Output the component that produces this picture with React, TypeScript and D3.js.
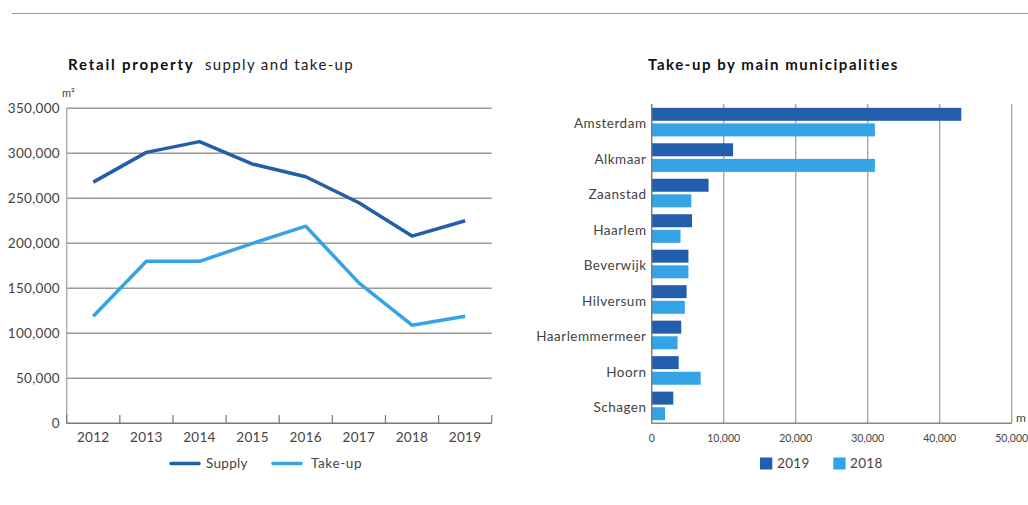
import React from "react";
import * as d3 from "d3";

const years = ["2012", "2013", "2014", "2015", "2016", "2017", "2018", "2019"];
const supply = [268000, 301000, 313000, 288000, 274000, 245000, 208000, 225000];
const takeUp = [119000, 180000, 180000, 200000, 219000, 156000, 109000, 119000];
const yTicksLeft = [0, 50000, 100000, 150000, 200000, 250000, 300000, 350000];

const municipalities = ["Amsterdam", "Alkmaar", "Zaanstad", "Haarlem", "Beverwijk", "Hilversum", "Haarlemmermeer", "Hoorn", "Schagen"];
const takeUp2019 = [43000, 11300, 7900, 5600, 5100, 4850, 4100, 3750, 3000];
const takeUp2018 = [31000, 31000, 5500, 4000, 5100, 4600, 3600, 6800, 1850];
const xTicksRight = [0, 10000, 20000, 30000, 40000, 50000];

const DARK = "#235ead";
const LIGHT = "#34a4e6";
const TEXT = "#444";
const FONT = "Lato, 'Open Sans', sans-serif";

export default function App() {
  // Left chart
  const lx = d3.scaleBand<string>().domain(years).range([66.7, 491.7]);
  const ly = d3.scaleLinear().domain([0, 350000]).range([423.3, 108.3]);
  const line = d3
    .line<number>()
    .x((_, i) => (lx(years[i]) as number) + lx.bandwidth() / 2)
    .y((d) => ly(d));
  const fmt = d3.format(",");

  // Right chart
  const rx = d3.scaleLinear().domain([0, 50000]).range([651.7, 1011.7]);
  const ry = d3.scaleBand<string>().domain(municipalities).range([104, 423.3]);
  const bw = ry.bandwidth();
  const barH = 13;

  return (
    <svg width={1028} height={505} style={{ position: "absolute", left: 0, top: 0, fontFamily: FONT }}>
      <rect width={1028} height={505} fill="#fff" />
      <line x1={12} x2={1028} y1={13.5} y2={13.5} stroke="#999" strokeWidth={1.2} />

      {/* Left title */}
      <text x={68} y={70} fontSize={15} fill="#111">
        <tspan fontWeight="bold" letterSpacing={1.8}>Retail property</tspan>
        <tspan x={205} fill="#222" letterSpacing={1.35}>supply and take-up</tspan>
      </text>
      <text x={62} y={97} fontSize={11} fill={TEXT}>m²</text>

      {/* gridlines */}
      {yTicksLeft.map((t) => (
        <g key={t}>
          {t > 0 && (
            <line x1={66.7} x2={491.7} y1={ly(t)} y2={ly(t)} stroke="#9a9a9a" strokeWidth={1.4} />
          )}
          <text x={60} y={ly(t)} dy="0.35em" textAnchor="end" fontSize={13.5} fill={TEXT} letterSpacing={0.3}>
            {fmt(t)}
          </text>
        </g>
      ))}
      <line x1={66.7} x2={66.7} y1={108.3} y2={423.3} stroke="#aaa" strokeWidth={1.4} />
      <line x1={66.7} x2={491.7} y1={423.3} y2={423.3} stroke="#777" strokeWidth={1.6} />
      {years.map((y) => (
        <line key={"t" + y} x1={lx(y) as number} x2={lx(y) as number} y1={415} y2={423.3} stroke="#777" strokeWidth={1.2} />
      ))}
      <line x1={491.7} x2={491.7} y1={415} y2={423.3} stroke="#777" strokeWidth={1.2} />
      {years.map((y) => (
        <text key={"l" + y} x={(lx(y) as number) + lx.bandwidth() / 2} y={437} dy="0.35em" textAnchor="middle" fontSize={13.5} fill={TEXT} letterSpacing={0.3}>
          {y}
        </text>
      ))}
      <path d={line(supply) || ""} fill="none" stroke={DARK} strokeWidth={3.5} strokeLinejoin="round" />
      <path d={line(takeUp) || ""} fill="none" stroke={LIGHT} strokeWidth={3.5} strokeLinejoin="round" />

      {/* Left legend */}
      <line x1={171} x2={199} y1={463.5} y2={463.5} stroke={DARK} strokeWidth={3.5} strokeLinecap="round" />
      <text x={206} y={463.5} dy="0.35em" fontSize={13.5} fill={TEXT} letterSpacing={0.3}>Supply</text>
      <line x1={273} x2={301} y1={463.5} y2={463.5} stroke={LIGHT} strokeWidth={3.5} strokeLinecap="round" />
      <text x={311} y={463.5} dy="0.35em" fontSize={13.5} fill={TEXT} letterSpacing={0.6}>Take-up</text>

      {/* Right title */}
      <text x={648} y={70} fontSize={15} fontWeight="bold" fill="#111" letterSpacing={1.55}>
        Take-up by main municipalities
      </text>

      {/* vertical gridlines */}
      {xTicksRight.map((t) => (
        <g key={"v" + t}>
          {t > 0 && (
            <line x1={rx(t)} x2={rx(t)} y1={104} y2={423.3} stroke="#a8a8a8" strokeWidth={1.4} />
          )}
          <text x={rx(t)} y={438} dy="0.35em" textAnchor="middle" fontSize={10.5} fill={TEXT}>
            {fmt(t)}
          </text>
        </g>
      ))}
      <text x={1016} y={422} fontSize={12} fill={TEXT}>m</text>

      {municipalities.map((m, i) => {
        const y0 = ry(m) as number;
        return (
          <g key={m}>
            <rect x={rx(0)} y={y0 + 3.8} width={rx(takeUp2019[i]) - rx(0)} height={barH} fill={DARK} />
            <rect x={rx(0)} y={y0 + 3.8 + barH + 2.6} width={rx(takeUp2018[i]) - rx(0)} height={barH} fill={LIGHT} />
            <text x={646.5} y={y0 + bw / 2 + 2} dy="0.35em" textAnchor="end" fontSize={13.5} fill={TEXT} letterSpacing={0.5}>
              {m}
            </text>
          </g>
        );
      })}
      <line x1={651.7} x2={651.7} y1={104} y2={423.3} stroke="#777" strokeWidth={1.4} />
      <line x1={651.7} x2={1011.7} y1={423.3} y2={423.3} stroke="#888" strokeWidth={1.4} />

      {/* Right legend */}
      <rect x={760} y={457.5} width={12.3} height={12} fill={DARK} />
      <text x={777} y={463.5} dy="0.35em" fontSize={13.5} fill={TEXT} letterSpacing={0.3}>2019</text>
      <rect x={833.3} y={457.5} width={12.3} height={12} fill={LIGHT} />
      <text x={850} y={463.5} dy="0.35em" fontSize={13.5} fill={TEXT} letterSpacing={0.3}>2018</text>
    </svg>
  );
}
